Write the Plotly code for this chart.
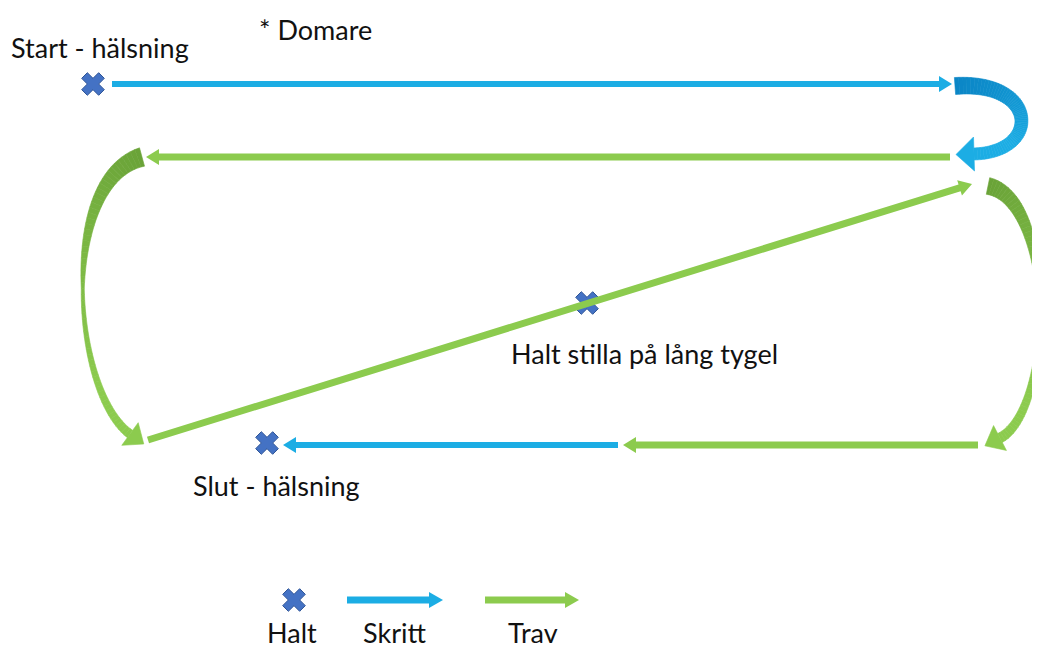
import numpy as np
import plotly.graph_objects as go

W, H = 1040, 652
PAGE_MARGIN = 8  # browser body margin, compensated so data units equal page pixels

# Colours
BLUE = "#1CADE4"
BLUE_DARK = "#0B86C6"
GREEN = "#8CCB4E"
GREEN_DARK = "#6AA338"
CROSS = "#4472C4"
CROSS_EDGE = "#2F5597"

# Straight movement arrows: (x0, y0, x1, y1, gait)
straight_x0 = [112, 950, 148, 978, 618]
straight_y0 = [84, 157, 440, 445, 445]
straight_x1 = [952, 146, 972, 623, 283]
straight_y1 = [84, 157, 184, 445, 445]
straight_gait = ["Skritt", "Trav", "Trav", "Trav", "Skritt"]

# Curved movement arrows: cubic control points, gait
curve_px = [[955, 1038, 1042, 974], [142, 58, 72, 130], [988, 1056, 1054, 1000]]
curve_py = [[86, 80, 152, 154], [157, 180, 392, 434], [186, 200, 410, 438]]
curve_gait = ["Skritt", "Trav", "Trav"]
curve_w_start = [17, 19, 17]
curve_w_mid = [13, 3, 4]
curve_w_end = [12, 9, 10]

# Halt points
halt_x = [93, 587, 267]
halt_y = [84, 303, 443]

# Text labels
label_text = ["Start - hälsning", "* Domare", "Halt stilla på lång tygel", "Slut - hälsning"]
label_x = [9, 257, 509, 191]
label_y = [47, 29, 353, 485]

# Legend
legend_names = ["Halt", "Skritt", "Trav"]
legend_text_x = [292, 394, 533]
legend_text_y = 632
legend_symbol_y = 600
legend_cross_x = 294
legend_arrow_x0 = [347, 485]
legend_arrow_x1 = [443, 579]

FONT = "Lato"
FSIZE = 27

fig = go.Figure()
shapes = []


def poly_path(pts):
    return "M " + " L ".join(f"{x:.2f},{y:.2f}" for x, y in pts) + " Z"


def straight_arrow(x0, y0, x1, y1, color, w=6, hl=13, hw=16):
    d = np.array([x1 - x0, y1 - y0], float)
    L = np.linalg.norm(d)
    u = d / L
    n = np.array([-u[1], u[0]])
    p0 = np.array([x0, y0], float)
    b = p0 + u * (L - hl)
    tip = np.array([x1, y1], float)
    pts = [p0 + n * w / 2, b + n * w / 2, b + n * hw / 2, tip,
           b - n * hw / 2, b - n * w / 2, p0 - n * w / 2]
    shapes.append(dict(type="path", path=poly_path(pts), fillcolor=color,
                       line=dict(width=0), xref="x", yref="y", layer="above"))


def mix(c1, c2, t):
    a = [int(c1[i:i + 2], 16) for i in (1, 3, 5)]
    b = [int(c2[i:i + 2], 16) for i in (1, 3, 5)]
    return "#" + "".join(f"{int(round(a[k] + (b[k] - a[k]) * t)):02x}" for k in range(3))


def curved_arrow(px, py, c_dark, c_light, w0, wm, w1, hl=18, hw=30):
    P = np.array(list(zip(px, py)), float)
    ts = np.linspace(0, 1, 61)

    def bez(t):
        return ((1 - t) ** 3) * P[0] + 3 * ((1 - t) ** 2) * t * P[1] + 3 * (1 - t) * t * t * P[2] + t ** 3 * P[3]

    def dbez(t):
        return 3 * ((1 - t) ** 2) * (P[1] - P[0]) + 6 * (1 - t) * t * (P[2] - P[1]) + 3 * t * t * (P[3] - P[2])

    def width(t):
        if t < 0.5:
            return w0 + (wm - w0) * (t / 0.5)
        return wm + (w1 - wm) * ((t - 0.5) / 0.5)

    left, right = [], []
    for t in ts:
        p = bez(t)
        d = dbez(t)
        u = d / np.linalg.norm(d)
        n = np.array([-u[1], u[0]])
        w = width(t)
        left.append(p + n * w / 2)
        right.append(p - n * w / 2)
    for i in range(len(ts) - 1):
        t = ts[i]
        col = mix(c_dark, c_light, min(1, t * 1.3))
        pts = [left[i], left[i + 1], right[i + 1], right[i]]
        shapes.append(dict(type="path", path=poly_path(pts), fillcolor=col,
                           line=dict(width=0.6, color=col), xref="x", yref="y", layer="above"))
    p = bez(1.0)
    d = dbez(1.0)
    u = d / np.linalg.norm(d)
    n = np.array([-u[1], u[0]])
    tip = p + u * hl
    pts = [p + n * hw / 2, tip, p - n * hw / 2]
    shapes.append(dict(type="path", path=poly_path(pts), fillcolor=c_light,
                       line=dict(width=0.6, color=c_light), xref="x", yref="y", layer="above"))


gait_color = {"Skritt": BLUE, "Trav": GREEN}
gait_dark = {"Skritt": BLUE_DARK, "Trav": GREEN_DARK}

for x0, y0, x1, y1, g in zip(straight_x0, straight_y0, straight_x1, straight_y1, straight_gait):
    straight_arrow(x0, y0, x1, y1, gait_color[g], w=6 if g == "Skritt" else 7)

for i in range(len(curve_px)):
    g = curve_gait[i]
    curved_arrow(curve_px[i], curve_py[i], gait_dark[g], gait_color[g],
                 curve_w_start[i], curve_w_mid[i], curve_w_end[i],
                 hl=18 if g == "Skritt" else 17, hw=34 if g == "Skritt" else 28)

# legend arrows
for x0, x1, g in zip(legend_arrow_x0, legend_arrow_x1, ["Skritt", "Trav"]):
    straight_arrow(x0, legend_symbol_y, x1, legend_symbol_y, gait_color[g], w=7, hl=14, hw=16)

# Halt crosses
fig.add_trace(go.Scatter(
    x=halt_x + [legend_cross_x], y=halt_y + [legend_symbol_y], mode="markers",
    marker=dict(symbol="x", size=20, color=CROSS, line=dict(width=1, color=CROSS_EDGE)),
    hoverinfo="skip", showlegend=False))

annotations = []
for t, x, y in zip(label_text, label_x, label_y):
    annotations.append(dict(x=x, y=y, text=t, showarrow=False, xanchor="left", yanchor="middle",
                            font=dict(family=FONT, size=FSIZE, color="#111111"), xref="x", yref="y"))
for t, x in zip(legend_names, legend_text_x):
    annotations.append(dict(x=x, y=legend_text_y, text=t, showarrow=False, xanchor="center", yanchor="middle",
                            font=dict(family=FONT, size=FSIZE, color="#111111"), xref="x", yref="y"))

fig.update_layout(
    width=W - PAGE_MARGIN, height=H - PAGE_MARGIN, margin=dict(l=0, r=0, t=0, b=0),
    paper_bgcolor="white", plot_bgcolor="white",
    xaxis=dict(range=[PAGE_MARGIN, W], visible=False, fixedrange=True),
    yaxis=dict(range=[H, PAGE_MARGIN], visible=False, fixedrange=True),
    shapes=shapes, annotations=annotations, showlegend=False,
)

fig.write_html("out.html")
